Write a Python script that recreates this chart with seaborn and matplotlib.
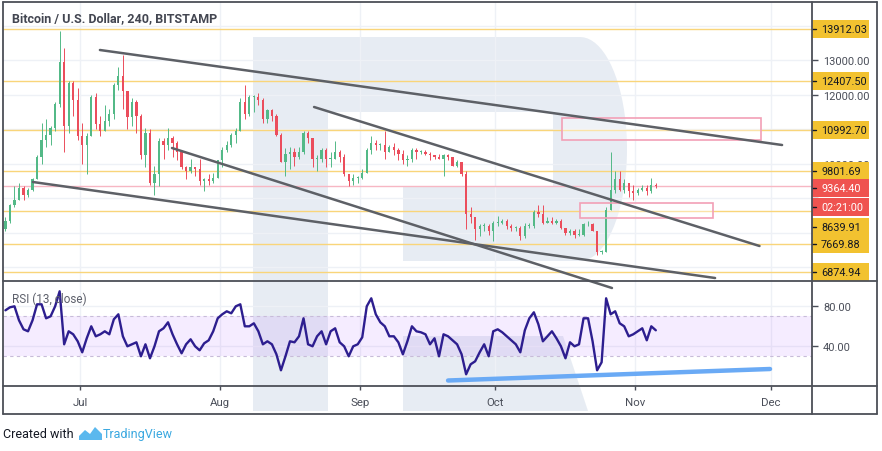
import numpy as np
import pandas as pd
import matplotlib
matplotlib.use("Agg")
import matplotlib.pyplot as plt
import matplotlib.dates as mdates
from matplotlib.patches import Rectangle, Polygon
from matplotlib.lines import Line2D
import seaborn as sns

# daily candles, Jun 14 - Nov 5 2019
days = pd.date_range("2019-06-14", "2019-11-05", freq="D")
first_open = 8100
highs = [8450, 8850, 9350, 9450, 9350, 9300, 9600, 10250, 11200, 11300, 11100, 11800, 13850, 13350, 12400, 12400, 12200,
         11200, 10900, 12000, 12050, 11400, 11700, 11600, 12350, 12800, 13150, 12100, 11900, 11850, 11450, 11050, 11000,
         9950, 10750, 10750, 11050, 10800, 10650, 10350, 9950, 10150, 9900, 10150, 9600, 9700, 9750, 10100,
         10500, 10650, 10900, 11050, 11900, 12300, 12000, 12000, 12050, 11900, 11600, 11600, 11450, 10900, 10450, 10500,
         10450, 10500, 10950, 10950, 10750, 10250, 10450, 10450, 10350, 10650, 10400, 10300, 9700, 9700, 9650,
         9850, 10450, 10800, 10700, 10600, 10950, 10550, 10600, 10450, 10400, 10250, 10450, 10450, 10400, 10400,
         10350, 10250, 10300, 10300, 10300, 10200, 10100, 10050, 9800, 8750, 8450, 8250, 8300, 8250, 8350,
         8500, 8400, 8400, 8250, 8200, 8200, 8300, 8300, 8650, 8800, 8800, 8450, 8450, 8400, 8400, 8150,
         8100, 8100, 8100, 8300, 8350, 8300, 8050, 7500, 8750, 10350, 9800, 9800, 9550, 9450, 9400,
         9300, 9400, 9400, 9600, 9450]
lows = [8050, 8300, 8750, 8950, 8950, 9050, 9200, 9550, 10000, 10500, 10550, 10950, 11650, 10350, 10900, 11400, 10700,
        10000, 9700, 10800, 11000, 10800, 10950, 11100, 11300, 12150, 11600, 11000, 11100, 10900, 10150, 9900, 9400,
        9100, 9350, 10150, 10400, 10200, 10100, 9850, 9550, 9750, 9650, 9400, 9200, 9400, 9450, 9600,
        9900, 10350, 10500, 10600, 10950, 11300, 11400, 11500, 11700, 11200, 11200, 11250, 10800, 10050, 9650, 9850,
        9950, 10150, 10300, 10600, 9900, 9800, 10050, 9900, 9900, 10150, 10050, 9650, 9350, 9400, 9450,
        9550, 9750, 10300, 10400, 10400, 10150, 10350, 10250, 10100, 10000, 9950, 10050, 10150, 10300, 10250,
        10100, 10150, 10150, 9650, 10100, 9950, 9900, 9650, 8100, 8300, 7800, 7900, 8050, 7950, 7750,
        8200, 8250, 8100, 8050, 8050, 7800, 7850, 8150, 8150, 8450, 8250, 8300, 8250, 8250, 8100, 7950,
        7950, 7850, 7900, 7900, 8200, 8050, 7350, 7400, 7450, 8650, 9150, 9200, 9150, 9050, 8950,
        9100, 9200, 9100, 9150, 9300]
closes = [8350, 8800, 8950, 9300, 9100, 9250, 9550, 10200, 10700, 10850, 11050, 11750, 12950, 11100, 12350, 11850, 10800,
          10550, 10800, 11950, 11150, 10950, 11250, 11450, 12300, 12550, 12100, 11350, 11800, 11400, 10250, 10900, 9450,
          9700, 10650, 10550, 10750, 10600, 10350, 9900, 9800, 9900, 9850, 9500, 9550, 9500, 9600, 10100,
          10400, 10550, 10850, 10950, 11800, 11450, 11950, 11950, 11850, 11300, 11550, 11400, 10850, 10050, 10300, 10350,
          10200, 10350, 10900, 10750, 10150, 10150, 10400, 10150, 10150, 10350, 10200, 9700, 9500, 9600, 9600,
          9750, 10400, 10600, 10550, 10550, 10350, 10500, 10400, 10300, 10100, 10150, 10400, 10350, 10350, 10300,
          10250, 10200, 10150, 10250, 10200, 9950, 10050, 9700, 8550, 8450, 8100, 8200, 8200, 8050, 8300,
          8300, 8350, 8200, 8150, 8150, 7900, 8200, 8200, 8600, 8550, 8300, 8350, 8300, 8350, 8150, 8000,
          8050, 7950, 7950, 8250, 8250, 8050, 7450, 7450, 8650, 9250, 9550, 9250, 9450, 9200, 9150,
          9250, 9300, 9200, 9400, 9364.40]
rsi = [76, 79, 80, 66, 57, 55, 66, 82, 82, 68, 70, 80, 95, 42, 55, 52, 45,
       34, 48, 60, 50, 52, 55, 52, 67, 72, 50, 40, 42, 44, 30, 42, 28, 40, 55, 58, 64, 52, 42, 33, 42, 47, 40, 36, 43, 46, 55, 68,
       72, 75, 73, 80, 82, 60, 60, 63, 55, 42, 45, 42, 32, 16, 30, 45, 44, 50, 68, 42, 40, 50, 55, 42, 55, 58, 44, 40, 30, 40, 42,
       49, 80, 88, 72, 64, 60, 50, 50, 44, 32, 45, 60, 55, 54, 52, 42, 48, 30, 52, 50, 46, 42, 32, 12, 22, 25, 34, 42, 30, 55,
       57, 54, 50, 46, 42, 34, 56, 68, 74, 62, 45, 50, 55, 48, 40, 28, 44, 40, 42, 68, 68, 45, 16, 24, 88, 72, 75, 63, 60, 50, 52,
       55, 58, 46, 60, 56]

levels = [13912.03, 12407.50, 10992.70, 9801.69, 8639.91, 7669.88, 6874.94]
last_price = 9364.40
countdown = "02:21:00"
price_ticks = [7000, 8000, 9000, 10000, 11000, 12000, 13000, 14000]
shown_ticks = [10000, 12000, 13000]   # the rest sit behind the level tags

# drawn trend lines: (start, price, end, price)
trend_lines = [("2019-07-05 10:00", 13303, "2019-12-03 11:00", 10548),
               ("2019-08-21 20:00", 11650, "2019-11-28 11:00", 7619),
               ("2019-07-21 09:00", 10461, "2019-10-26 19:00", 6401),
               ("2019-06-20 14:00", 9475, "2019-11-18 15:00", 6691)]
zones = [("2019-10-15 17:00", "2019-11-28 17:00", 10693, 11331),
         ("2019-10-19 17:00", "2019-11-18 05:00", 8431, 8866)]
rsi_support = ("2019-09-20 12:00", 5.8, "2019-11-30 19:00", 17.3)
month_ticks = ["2019-07-01", "2019-08-01", "2019-09-01", "2019-10-01", "2019-11-01", "2019-12-01"]
month_labels = ["Jul", "Aug", "Sep", "Oct", "Nov", "Dec"]

sns.set_theme(style="white")
plt.rcParams["font.family"] = ["Roboto", "DejaVu Sans"]

W, H = 882, 452
GREEN, RED = "#53b987", "#eb4d5c"
AXC = "#4a4e59"

def fx(x):
    return x / W

def fy(y):
    return 1 - y / H

def t(s):
    return mdates.date2num(pd.Timestamp(s))

fig = plt.figure(figsize=(W / 100, H / 100), dpi=100)
fig.patch.set_facecolor("white")

# watermark "R"
wm = "#e7ecf3"
theta = np.linspace(np.pi / 2, -np.pi / 2, 40)
bowl = [(580 + 47 * np.cos(a), 150 - 112 * np.sin(a)) for a in theta]
outline = [(253, 38), (580, 38)] + bowl + [(403, 262), (403, 188), (553, 188), (553, 113),
                                           (328, 113), (328, 412), (253, 412)]
fig.add_artist(Polygon([(fx(a), fy(b)) for a, b in outline], closed=True, transform=fig.transFigure,
                       facecolor=wm, edgecolor="none", zorder=-1))
leg = [(403, 337), (563, 337), (588, 412), (403, 412)]
fig.add_artist(Polygon([(fx(a), fy(b)) for a, b in leg], closed=True, transform=fig.transFigure,
                       facecolor=wm, edgecolor="none", zorder=-1))

ax = fig.add_axes([fx(3), fy(282), fx(812) - fx(3), fy(3) - fy(282)])
ax2 = fig.add_axes([fx(3), fy(387), fx(812) - fx(3), fy(282) - fy(387)], sharex=ax)
for a in (ax, ax2):
    a.set_facecolor("none")
    for s in a.spines.values():
        s.set_visible(False)
    a.grid(True, color="#eef1f6", lw=1)
    a.set_axisbelow(True)

# candles
x = mdates.date2num(days) + 0.5
closes = np.array(closes, dtype=float)
opens = np.r_[first_open, closes[:-1]]
cols = np.where(closes >= opens, GREEN, RED)
ax.vlines(x, lows, highs, colors=cols, linewidth=0.7, zorder=3)
ax.bar(x, np.maximum(np.abs(closes - opens), 20), bottom=np.minimum(opens, closes), width=0.5,
       color=cols, linewidth=0, zorder=4)

for lv in levels:
    ax.axhline(lv, color="#f9d57a", lw=1, zorder=2)
ax.axhline(last_price, color="#f7b7c3", lw=1, zorder=2)

for d0, p0, d1, p1 in trend_lines:
    ax.plot([t(d0), t(d1)], [p0, p1], color="#5d6066", lw=1.8, solid_capstyle="round", zorder=6, clip_on=False)

for d0, d1, p0, p1 in zones:
    ax.add_patch(Rectangle((t(d0), p0), t(d1) - t(d0), p1 - p0, facecolor="white", alpha=0.35,
                           edgecolor="none", zorder=2))
    ax.add_patch(Rectangle((t(d0), p0), t(d1) - t(d0), p1 - p0, facecolor="none",
                           edgecolor="#f2a0b6", lw=1.2, zorder=5))

ax.set_xlim(t("2019-06-13 23:00"), t("2019-12-10 02:00"))
ax.set_ylim(6604, 14695)
ax.set_yticks(price_ticks)
ax.set_yticklabels([f"{v:.2f}" if v in shown_ticks else "" for v in price_ticks])
ax.yaxis.tick_right()
ax.tick_params(axis="y", length=4, width=1, color=AXC, labelsize=7.9, labelcolor=AXC, pad=4, right=True)
ax.tick_params(axis="x", length=0, labelbottom=False)

# RSI panel
ax2.axhspan(30, 70, color="#9b30ff", alpha=0.09, lw=0, zorder=1)
for lv in (30, 70):
    ax2.axhline(lv, color="#c8bcd9", lw=0.8, ls=(0, (3, 3)), zorder=2)
sns.lineplot(x=x, y=rsi, ax=ax2, color="#2d1e8f", linewidth=1.7, zorder=4)
ax2.plot([t(rsi_support[0]), t(rsi_support[2])], [rsi_support[1], rsi_support[3]],
         color="#6aaaf5", lw=3.2, solid_capstyle="round", zorder=5)
ax2.set_ylim(0.3, 105.3)
ax2.set_yticks([40, 80])
ax2.set_yticklabels(["40.00", "80.00"])
ax2.yaxis.tick_right()
ax2.tick_params(axis="y", length=4, width=1, color=AXC, labelsize=7.9, labelcolor=AXC, pad=4, right=True)
ax2.set_xticks([t(m) for m in month_ticks])
ax2.set_xticklabels(month_labels)
ax2.tick_params(axis="x", length=3, width=1, color=AXC, labelsize=8.2, labelcolor=AXC, pad=5, bottom=True)
ax2.set_xlabel("")
ax2.set_ylabel("")
ax2.text(0.011, 0.838, "RSI (13, close)", transform=ax2.transAxes, fontsize=8.5, color="#5d606b",
         va="center", zorder=6)

fig.text(fx(12), fy(19), "Bitcoin / U.S. Dollar, 240, BITSTAMP", fontsize=9, fontweight="bold",
         color="#434651", va="center")

# price tags on the right scale
def tag(price, text, face, fg, shift=0):
    y = H - ax.transData.transform((0, price))[1] + shift
    fig.add_artist(Rectangle((fx(812), fy(y + 9)), fx(869) - fx(812), 18 / H, transform=fig.transFigure,
                             facecolor=face, edgecolor="none", zorder=3))
    fig.add_artist(Line2D([fx(812), fx(816)], [fy(y), fy(y)], transform=fig.transFigure,
                          color="#131722", lw=1, zorder=4))
    fig.text(fx(821), fy(y), text, color=fg, fontsize=7.8, va="center", zorder=5)

shifts = {8639.91: 16}
for lv in levels:
    tag(lv, f"{lv:.2f}", "#f2c230", "#131722", shifts.get(lv, 0))
tag(last_price, f"{last_price:.2f}", "#ef5350", "white", 2.5)
tag(last_price, countdown, "#ef5350", "white", 21)

# frame
for x0, y0, x1, y1 in [(3, 3, 877, 3), (3, 415, 877, 415), (3, 3, 3, 415), (877, 3, 877, 415),
                       (812, 3, 812, 415), (3, 282, 877, 282), (3, 387, 877, 387)]:
    fig.add_artist(Line2D([fx(x0), fx(x1)], [fy(y0), fy(y1)], transform=fig.transFigure,
                          color="#4c4f57", lw=1.3, zorder=6))

# footer
fig.text(fx(3), fy(435), "Created with", fontsize=9, color="#131722", va="center")
logo = [(79, 441), (79, 437), (85, 431), (90, 435), (95, 428), (102, 435), (102, 441)]
fig.add_artist(Polygon([(fx(a), fy(b)) for a, b in logo], closed=True, transform=fig.transFigure,
                       facecolor="#5bb8ee", edgecolor="none"))
fig.text(fx(103), fy(435), "TradingView", fontsize=9, color="#3aa8e0", va="center")

fig.savefig("out.png", dpi=100)
